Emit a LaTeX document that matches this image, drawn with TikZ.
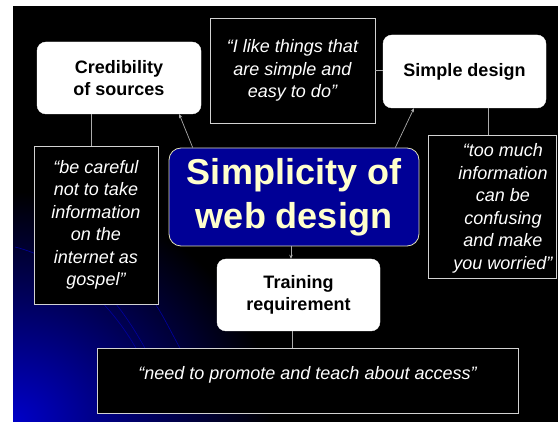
\documentclass[tikz,border=0pt]{standalone}
\usepackage{fontspec}
\setmainfont{Liberation Sans}
\usetikzlibrary{arrows.meta}
\definecolor{slidenavy}{RGB}{0,0,150}
\definecolor{creamtext}{RGB}{255,255,204}
\definecolor{glowblue}{RGB}{0,0,200}

\begin{document}
\begin{tikzpicture}[x=1pt, y=-1pt,
    topic/.style={draw=white, fill=white, rounded corners=9pt, text=black, align=center, font=\fontsize{18}{22}\selectfont\bfseries},
    quote/.style={draw=gray!35, line width=0.9pt, fill=black, text=white, align=center, font=\fontsize{18}{22.5}\selectfont\itshape},
    link/.style={gray!65, line width=0.7pt},
    pointer/.style={link, -{Stealth[length=4pt, width=3.5pt]}}]
    \useasboundingbox (0,0) rectangle (558,422);
    \fill[white] (0,0) rectangle (558,422);

    % slide background with the blue glow
    \begin{scope}
        \clip (13,6) rectangle (558,422);
        \fill[black] (13,6) rectangle (558,422);
        \shade[inner color=glowblue, outer color=black] (13,422) ellipse (260 and 230);
        \foreach \sx/\sy/\ex in {15/247/137, 40/252/146, 100/268/181}
            \draw[glowblue!80!black, line width=0.6pt] (\sx,\sy) .. controls +(50,12) and +(-25,-45) .. (\ex,350);
    \end{scope}

    \node[topic, minimum width=164pt, minimum height=72pt] (cred) at (119,78) {Credibility\\of sources};
    \node[quote, minimum width=165pt, minimum height=105pt] (likequote) at (292.5,70.5) {“I like things that\\are simple and\\easy to do”};
    \node[topic, minimum width=163pt, minimum height=73pt] (simple) at (464.5,71.5) {Simple design};
    \node[quote, minimum width=124pt, minimum height=158pt] (carefulquote) at (96,225) {“be careful\\not to take\\information\\on the\\internet as\\gospel”};
    \node[quote, minimum width=128pt, minimum height=143pt] (muchquote) at (492,206.5) {};
    \node[text=white, align=center, font=\fontsize{18}{22.5}\selectfont\itshape] (muchtext) at (503,208.5) {“too much\\information\\can be\\confusing\\and make\\you worried”};
    \node[draw=creamtext!75!gray, line width=0.8pt, fill=slidenavy, rounded corners=12pt, text=creamtext, align=center,
          font=\fontsize{36}{44}\selectfont\bfseries, minimum width=250pt, minimum height=98pt] (core) at (294,197) {Simplicity of\\web design};
    \node[topic, minimum width=163pt, minimum height=72pt] (train) at (298.5,295) {Training\\requirement};
    \node[quote, minimum width=421pt, minimum height=65pt, text depth=16pt] (needquote) at (307.5,380.5) {“need to promote and teach about access”};

    \draw[link] ([xshift=-5pt]carefulquote.north) -- ([xshift=-5pt]carefulquote.north |- cred.south);
    \draw[link] (likequote.east) -- (likequote.east -| simple.west);
    \draw[link] ([xshift=23.5pt]simple.south) -- ([xshift=23.5pt]simple.south |- muchquote.north);
    \draw[link] ([xshift=-6.5pt]train.south) -- ([xshift=-6.5pt]train.south |- needquote.north);

    \draw[pointer] (core.154) -- (cred.-31);
    \draw[pointer] (core.26) -- (simple.216);
    \draw[pointer] ([xshift=-3pt]core.south) -- ([xshift=-3pt]core.south |- train.north);
\end{tikzpicture}
\end{document}
